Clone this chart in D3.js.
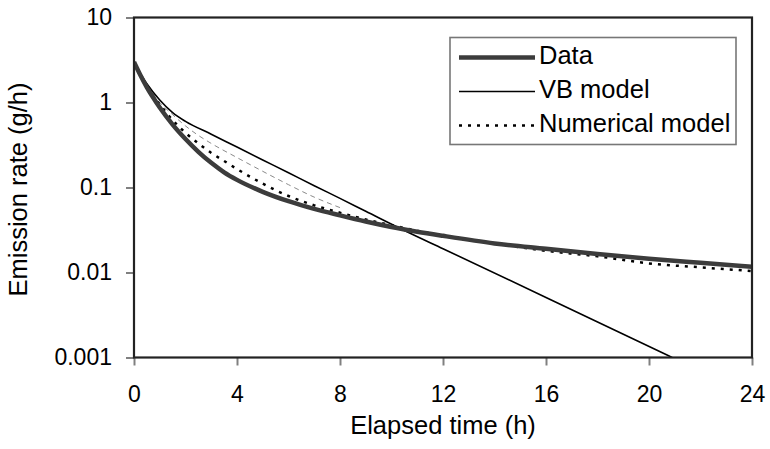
<!DOCTYPE html>
<html><head><meta charset="utf-8">
<script src="https://cdn.jsdelivr.net/npm/d3@7"></script>
<style>
html,body{margin:0;padding:0;background:#fff;}
text{font-family:"Liberation Sans",Arial,sans-serif;fill:#000;}
</style></head>
<body>
<svg id="chart" width="770" height="449"></svg>
<script>
// ---- data ----
const dataTime = [0,0.25,0.5,0.75,1,1.5,2,2.5,3,3.5,4,5,6,7,8,9,10,11,12,14,16,18,20,22,24];
const dataRate = [3.0,2.09,1.51,1.135,0.871,0.55,0.372,0.263,0.195,0.151,0.123,0.089,0.069,0.056,0.047,0.0398,0.0343,0.0302,0.027,0.022,0.019,0.0165,0.0145,0.013,0.0117];

const vbTime = [0,0.25,0.5,1,1.5,2,3,4,5,6,7,8,9,10.6,12,16,20.9];
const vbRate = [2.9,2.19,1.66,1.07,0.76,0.6,0.424,0.299,0.211,0.149,0.105,0.0745,0.0526,0.0302,0.01905,0.00509,0.001];

const numTime = [0,0.5,1,1.5,2,2.5,3,3.5,4,5,6,7,8,9,10,11,12,14,16,18,20,22,24];
const numRate = [2.9,1.5,0.95,0.62,0.44,0.33,0.255,0.205,0.165,0.111,0.0794,0.0617,0.0505,0.042,0.036,0.031,0.027,0.022,0.018,0.0155,0.0128,0.0115,0.0104];

const auxTime = [0,0.5,1,1.5,2,2.5,3,4,5,6,7,8];
const auxRate = [2.9,1.6,1.0,0.72,0.53,0.41,0.33,0.225,0.155,0.108,0.077,0.058];

const xTicks = [0,4,8,12,16,20,24];
const yTicks = [0.001,0.01,0.1,1,10];
const yTickLabels = ["0.001","0.01","0.1","1","10"];
const legendLabels = ["Data","VB model","Numerical model"];
const xTitle = "Elapsed time (h)";
const yTitle = "Emission rate (g/h)";

// ---- drawing ----
const svg = d3.select("#chart");
const L = 134, R = 752, T = 17.5, B = 357.5;
const x = d3.scaleLinear().domain([0,24]).range([L,R]);
const y = d3.scaleLog().domain([0.001,10]).range([B,T]);

svg.append("defs").append("clipPath").attr("id","clip")
  .append("rect").attr("x",L).attr("y",T).attr("width",R-L).attr("height",B-T);

const line = d3.line().x(d=>x(d[0])).y(d=>y(d[1])).curve(d3.curveMonotoneX);
const zip = (a,b)=>a.map((v,i)=>[v,b[i]]);

const g = svg.append("g").attr("clip-path","url(#clip)");
g.append("path").datum(zip(auxTime,auxRate)).attr("d",line)
  .attr("fill","none").attr("stroke","#8a8a8a").attr("stroke-width",1).attr("stroke-dasharray","5,4");
g.append("path").datum(zip(numTime,numRate)).attr("d",line)
  .attr("fill","none").attr("stroke","#000").attr("stroke-width",2.5).attr("stroke-dasharray","3,6");
g.append("path").datum(zip(vbTime,vbRate)).attr("d",line)
  .attr("fill","none").attr("stroke","#000").attr("stroke-width",1.6);
g.append("path").datum(zip(dataTime,dataRate)).attr("d",line)
  .attr("fill","none").attr("stroke","#3c3c3c").attr("stroke-width",4.5).attr("stroke-linejoin","round");

// axes
const xAxis = svg.append("g").attr("transform",`translate(0,${B})`)
  .call(d3.axisBottom(x).tickValues(xTicks).tickSize(8).tickPadding(20).tickFormat(d3.format("d")));
const yAxis = svg.append("g").attr("transform",`translate(${L},0)`)
  .call(d3.axisLeft(y).tickValues(yTicks).tickSize(8).tickPadding(14).tickFormat((d,i)=>yTickLabels[i]));
[xAxis,yAxis].forEach(a=>{
  a.select(".domain").remove();
  a.selectAll(".tick line").attr("stroke","#808080").attr("stroke-width",2);
  a.selectAll(".tick text").attr("font-size",23).attr("font-family","Liberation Sans, Arial, sans-serif").attr("fill","#000");
});

// frame
svg.append("rect").attr("x",L).attr("y",T).attr("width",R-L).attr("height",B-T)
  .attr("fill","none").attr("stroke","#222").attr("stroke-width",2.2);

// titles
svg.append("text").attr("x",(L+R)/2).attr("y",434).attr("text-anchor","middle")
  .attr("font-size",25.5).text(xTitle);
svg.append("text").attr("transform",`translate(27,${(T+B)/2+2}) rotate(-90)`).attr("text-anchor","middle")
  .attr("font-size",25.5).text(yTitle);

// legend
const lg = svg.append("g");
lg.append("rect").attr("x",450).attr("y",37.5).attr("width",286).attr("height",107)
  .attr("fill","#fff").attr("stroke","#777").attr("stroke-width",1.6);
const styles = [
  {stroke:"#3c3c3c",w:4.5,dash:null},
  {stroke:"#000",w:1.6,dash:null},
  {stroke:"#000",w:2.5,dash:"3,6"}
];
legendLabels.forEach((lab,i)=>{
  const yy = 57.5 + i*34;
  lg.append("line").attr("x1",459).attr("x2",535).attr("y1",yy).attr("y2",yy)
    .attr("stroke",styles[i].stroke).attr("stroke-width",styles[i].w)
    .attr("stroke-dasharray",styles[i].dash);
  lg.append("text").attr("x",539).attr("y",yy+6.5).attr("font-size",25.5).text(lab);
});
</script>
</body></html>
